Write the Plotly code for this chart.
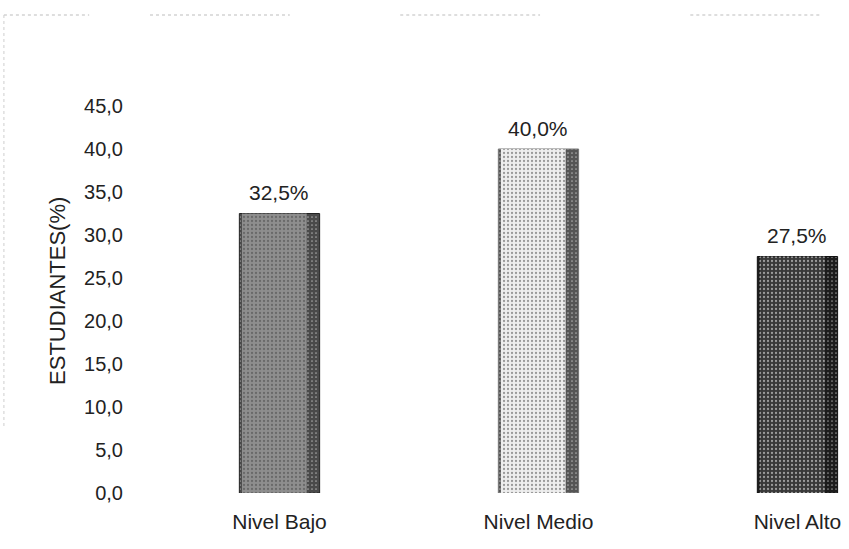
import plotly.graph_objects as go

# Distribución de estudiantes por nivel
categorias = ["Nivel Bajo", "Nivel Medio", "Nivel Alto"]
porcentajes = [32.5, 40.0, 27.5]
ticks_y = [0, 5, 10, 15, 20, 25, 30, 35, 40, 45]

color_cara = ["#8e8e8e", "#eeeeee", "#383838"]
color_lado = ["#4a4a4a", "#555555", "#1c1c1c"]
color_trama = ["#3a3a3a", "#9a9a9a", "#8a8a8a"]
color_borde = ["#222222", "#777777", "#111111"]

fuente = "Liberation Sans, Arial, sans-serif"

fig = go.Figure()

# cuerpo completo de la barra (lado sombreado)
fig.add_trace(go.Bar(
    x=categorias, y=porcentajes, width=0.31,
    marker=dict(color=color_lado, line=dict(color=color_borde, width=1),
                pattern=dict(shape=".", fgcolor="#bbbbbb", size=4, solidity=0.15)),
    showlegend=False, hoverinfo="skip",
))

# cara frontal con textura punteada
fig.add_trace(go.Bar(
    x=categorias, y=porcentajes, width=0.25, offset=-0.145,
    marker=dict(color=color_cara, line=dict(width=0),
                pattern=dict(shape=".", fgcolor=color_trama, size=4, solidity=0.25)),
    showlegend=False, hoverinfo="skip",
))

# etiquetas de porcentaje sobre cada barra
anotaciones = [
    dict(x=c, y=v, xref="x", yref="y", text=f"{v:.1f}%".replace(".", ","),
         showarrow=False, yanchor="middle", yshift=21,
         font=dict(family=fuente, size=21, color="#222222"))
    for c, v in zip(categorias, porcentajes)
]

# título del eje vertical
anotaciones.append(dict(
    x=-0.1316, y=0.47, xref="paper", yref="paper", text="ESTUDIANTES(%)",
    textangle=-90, showarrow=False, xanchor="center", yanchor="middle",
    font=dict(family=fuente, size=22, color="#222222"),
))

# marco punteado del área del gráfico
x_izq = -0.209
y_sup = 1.1116
segmentos = [(-0.209, -0.087), (0.0, 0.2), (0.358, 0.558), (0.773, 0.96)]
marco = [
    dict(type="line", xref="paper", yref="paper", x0=a, x1=b, y0=y_sup, y1=y_sup,
         line=dict(color="#bdbdbd", width=1, dash="dot"))
    for a, b in segmentos
]
marco.append(dict(type="line", xref="paper", yref="paper", x0=x_izq, x1=x_izq,
                  y0=y_sup, y1=0.15, line=dict(color="#cfcfcf", width=1, dash="dot")))

fig.update_layout(
    width=849, height=549,
    barmode="overlay",
    separators=",.",
    paper_bgcolor="white", plot_bgcolor="white",
    margin=dict(l=150, r=0, t=63, b=56),
    font=dict(family=fuente, size=16, color="#222222"),
    xaxis=dict(range=[-0.5, 2.199], showline=False, showgrid=False, zeroline=False,
               ticks="", ticklabelstandoff=14, tickfont=dict(size=21)),
    yaxis=dict(range=[0, 50], tickvals=ticks_y, tickformat=".1f",
               showline=False, showgrid=False, zeroline=False, ticks="",
               ticklabelstandoff=26, tickfont=dict(size=20)),
    annotations=anotaciones,
    shapes=marco,
)

fig.write_html("out.html")
